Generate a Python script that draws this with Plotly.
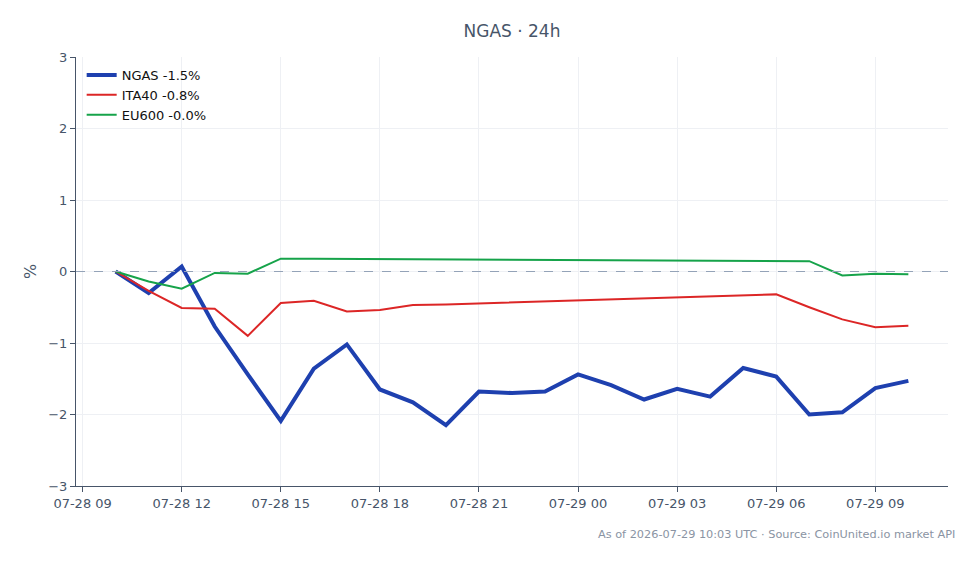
import plotly.graph_objects as go
import pandas as pd

times = pd.date_range("2026-07-28 10:00", "2026-07-29 10:00", freq="h")

ngas = [0.0, -0.30, 0.07, -0.77, -1.44, -2.09, -1.36, -1.02, -1.65, -1.83,
        -2.15, -1.68, -1.70, -1.68, -1.44, -1.59, -1.79, -1.64, -1.75, -1.35,
        -1.47, -2.00, -1.97, -1.63, -1.53]
ita40 = [0.0, -0.27, -0.51, -0.52, -0.90, -0.44, -0.41, -0.56, -0.54, -0.47,
         -0.46, -0.445, -0.43, -0.415, -0.40, -0.387, -0.373, -0.36, -0.347, -0.333,
         -0.32, -0.50, -0.67, -0.78, -0.76]
eu600 = [0.0, -0.14, -0.24, -0.02, -0.03, 0.18, 0.178, 0.176, 0.174, 0.172,
         0.170, 0.168, 0.166, 0.164, 0.162, 0.160, 0.158, 0.156, 0.154, 0.152,
         0.148, 0.144, -0.055, -0.03, -0.04]

series_names = ["NGAS -1.5%", "ITA40 -0.8%", "EU600 -0.0%"]
colors = ["#1e40af", "#dc2626", "#16a34a"]
widths = [4, 2, 2]

fig = go.Figure()
for vals, name, c, w in zip([ngas, ita40, eu600], series_names, colors, widths):
    fig.add_trace(go.Scatter(x=times, y=vals, mode="lines", name=name,
                             line=dict(color=c, width=w)))

fig.add_hline(y=0, line=dict(color="#94a3b8", width=1, dash="dash"))

fig.update_layout(
    width=980, height=564,
    margin=dict(l=76, r=32, t=57, b=78),
    paper_bgcolor="white", plot_bgcolor="white",
    font=dict(family="DejaVu Sans", size=13, color="#475569"),
    title=dict(text="NGAS · 24h", x=0.5, xref="paper", y=0.945, yanchor="middle",
               font=dict(size=17, color="#475569")),
    legend=dict(x=0.0065, y=0.993, xanchor="left", yanchor="top",
                bgcolor="rgba(255,255,255,0)", font=dict(size=13, color="#111111")),
    showlegend=True,
)
fig.update_xaxes(
    range=["2026-07-28 08:48", "2026-07-29 11:12"],
    dtick=3 * 3600000, tick0="2026-07-28 09:00", tickformat="%m-%d %H",
    showgrid=True, gridcolor="#eef0f4", showline=True, linecolor="#475569",
    ticks="outside", tickcolor="#475569", ticklen=5, zeroline=False,
)
fig.update_yaxes(
    range=[-3, 3], dtick=1, title=dict(text="%", standoff=7),
    showgrid=True, gridcolor="#eef0f4", showline=True, linecolor="#475569",
    ticks="outside", tickcolor="#475569", ticklen=5, zeroline=False,
)
fig.add_annotation(
    text="As of 2026-07-29 10:03 UTC · Source: CoinUnited.io market API",
    xref="paper", yref="paper", x=1.01, y=-0.112, xanchor="right", yanchor="middle",
    showarrow=False, font=dict(size=11.3, color="#8a94a3"),
)
fig.write_html("out.html")
